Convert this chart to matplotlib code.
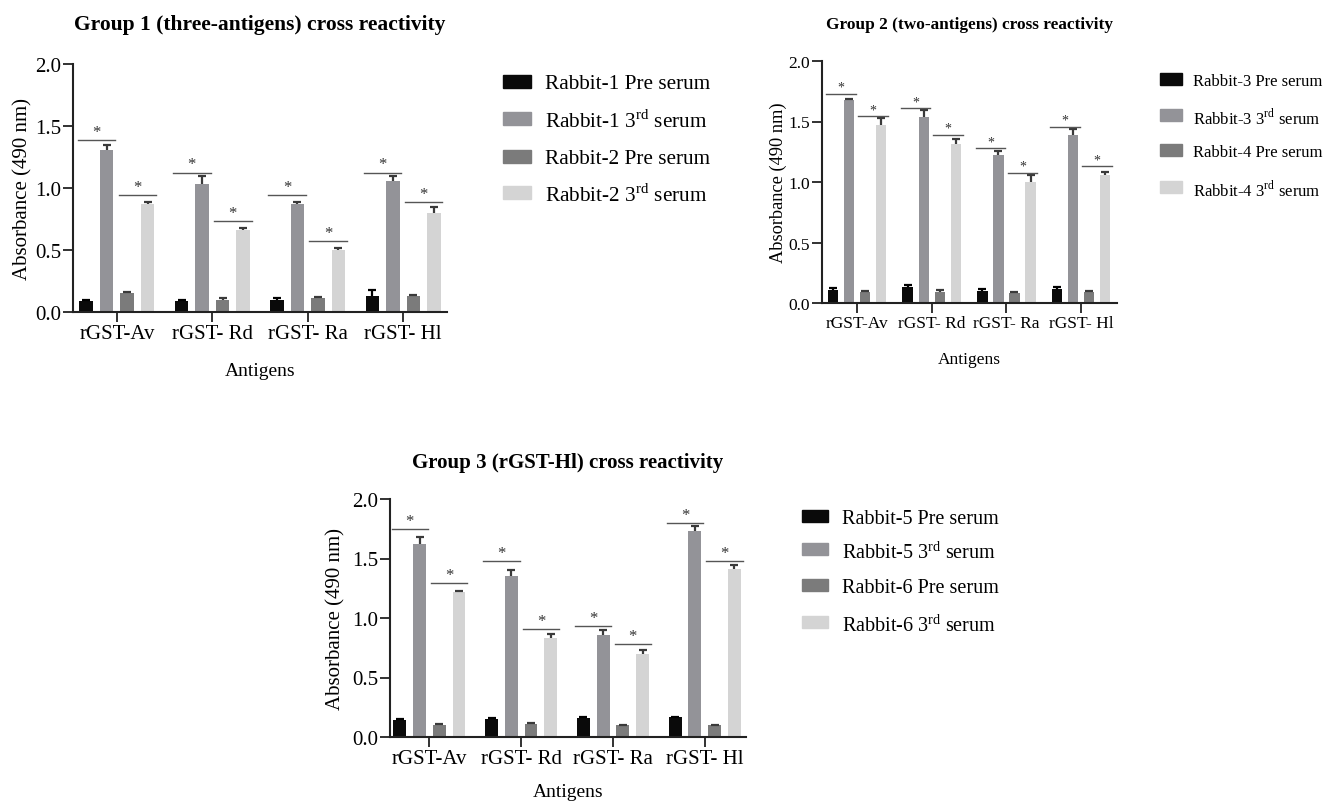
import matplotlib
matplotlib.use('Agg')
import matplotlib.pyplot as plt
from matplotlib.patches import Rectangle
import numpy as np

plt.rcParams['font.family'] = ['Liberation Serif', 'DejaVu Serif']
plt.rcParams['mathtext.fontset'] = 'custom'
plt.rcParams['mathtext.rm'] = 'Liberation Serif'

W, H = 1325, 803

antigens = ['rGST-Av', 'rGST- Rd', 'rGST- Ra', 'rGST- Hl']
colors = ['#0a0a0a', '#939398', '#7b7b7b', '#d4d4d4']

# group 1: rabbit-1 pre, rabbit-1 3rd, rabbit-2 pre, rabbit-2 3rd
g1_labels = ['Rabbit-1 Pre serum', r'Rabbit-1 3$^{\mathrm{rd}}$ serum', 'Rabbit-2 Pre serum', r'Rabbit-2 3$^{\mathrm{rd}}$ serum']
g1_vals = [[0.09, 0.09, 0.095, 0.13], [1.31, 1.03, 0.87, 1.06], [0.155, 0.10, 0.115, 0.13], [0.87, 0.665, 0.50, 0.80]]
g1_err = [[0.01, 0.01, 0.015, 0.05], [0.04, 0.07, 0.015, 0.04], [0.01, 0.01, 0.01, 0.005], [0.015, 0.01, 0.02, 0.05]]
g1_sig_a = [1.39, 1.125, 0.94, 1.125]
g1_sig_b = [0.94, 0.735, 0.57, 0.89]

g2_labels = ['Rabbit-3 Pre serum', r'Rabbit-3 3$^{\mathrm{rd}}$ serum', 'Rabbit-4 Pre serum', r'Rabbit-4 3$^{\mathrm{rd}}$ serum']
g2_vals = [[0.11, 0.135, 0.10, 0.115], [1.675, 1.54, 1.225, 1.385], [0.088, 0.094, 0.083, 0.088], [1.47, 1.31, 1.00, 1.055]]
g2_err = [[0.01, 0.01, 0.015, 0.02], [0.01, 0.055, 0.03, 0.055], [0.01, 0.01, 0.005, 0.008], [0.055, 0.045, 0.06, 0.03]]
g2_sig_a = [1.73, 1.61, 1.28, 1.455]
g2_sig_b = [1.545, 1.39, 1.075, 1.13]

g3_labels = ['Rabbit-5 Pre serum', r'Rabbit-5 3$^{\mathrm{rd}}$ serum', 'Rabbit-6 Pre serum', r'Rabbit-6 3$^{\mathrm{rd}}$ serum']
g3_vals = [[0.14, 0.15, 0.16, 0.165], [1.625, 1.355, 0.86, 1.73], [0.10, 0.11, 0.10, 0.10], [1.22, 0.83, 0.70, 1.41]]
g3_err = [[0.01, 0.01, 0.01, 0.005], [0.055, 0.045, 0.04, 0.04], [0.01, 0.008, 0.005, 0.0], [0.01, 0.035, 0.03, 0.035]]
g3_sig_a = [1.75, 1.48, 0.93, 1.80]
g3_sig_b = [1.295, 0.91, 0.785, 1.48]
g3_line_a = [False, False, True, True]


def px_box(l, t, r, b):
  return [l / W, 1 - b / H, (r - l) / W, (b - t) / H]


def draw_panel(ax, vals, errs, sig_a, sig_b, xlim, fs, line_a=None):
  x = np.arange(len(antigens))
  step, width = 0.215, 0.14
  for i in range(4):
    off = (i - 1.5) * step
    ax.bar(x + off, vals[i], width, color=colors[i], zorder=2)
    ec = '#3a3a3a' if i != 0 else '#000000'
    _, caps, _ = ax.errorbar(x + off, vals[i], yerr=[np.zeros(4), errs[i]], fmt='none', ecolor=ec,
                             elinewidth=1.6, capsize=2.6, capthick=1.6, zorder=3)
    caps[0].remove()  # one-sided bars, no cap at the bar top
  if line_a is None:
    line_a = [True] * 4
  for j in range(4):
    for k, (h, first) in enumerate([(sig_a[j], 0), (sig_b[j], 2)]):
      x0 = x[j] + (first - 1.5) * step - width / 2 - 0.02
      x1 = x[j] + (first + 1 - 1.5) * step + width / 2 + 0.02
      if k == 1 or line_a[j]:
        ax.plot([x0, x1], [h, h], color='#555555', lw=1.0, zorder=3)
      ax.text((x0 + x1) / 2, h + 0.0, '*', ha='center', va='bottom', fontsize=fs * 0.8, color='#333333')
  ax.set_xlim(*xlim)
  ax.set_ylim(0, 2.0)
  ax.set_yticks([0, 0.5, 1.0, 1.5, 2.0])
  ax.set_yticklabels(['0.0', '0.5', '1.0', '1.5', '2.0'])
  ax.set_xticks(x)
  ax.set_xticklabels(antigens)
  ax.tick_params(labelsize=fs, width=1.3, length=7, pad=1.5, color='#222222')
  for s in ['top', 'right']:
    ax.spines[s].set_visible(False)
  for s in ['left', 'bottom']:
    ax.spines[s].set_linewidth(1.5)
    ax.spines[s].set_color('#222222')


def draw_text(ax, title, title_xy, title_fs, ylab_x, ylab_fs, xlab_y, xlab_fs):
  ax.set_ylabel('Absorbance (490 nm)', fontsize=ylab_fs)
  ax.yaxis.set_label_coords(ylab_x, 0.5)
  ax.set_xlabel('Antigens', fontsize=xlab_fs)
  ax.xaxis.set_label_coords(0.5, xlab_y)
  fig.text(title_xy[0] / W, 1 - title_xy[1] / H, title, ha='center', va='center',
           fontsize=title_fs, fontweight='bold')


def draw_legend(labels, sq_x, sq_w, sq_h, txt_x, rows_y, fs):
  for c, lab, y in zip(colors, labels, rows_y):
    fig.add_artist(Rectangle((sq_x / W, 1 - (y + sq_h / 2) / H), sq_w / W, sq_h / H,
                             transform=fig.transFigure, color=c))
    fig.text(txt_x / W, 1 - y / H, lab, va='center_baseline', fontsize=fs)


fig = plt.figure(figsize=(W / 100, H / 100), dpi=100)
ax1 = fig.add_axes(px_box(73, 65, 447, 313))
ax2 = fig.add_axes(px_box(822, 62, 1117, 304))
ax3 = fig.add_axes(px_box(390, 500, 746, 738))

draw_panel(ax1, g1_vals, g1_err, g1_sig_a, g1_sig_b, (-0.46, 3.46), 15)
draw_text(ax1, 'Group 1 (three-antigens) cross reactivity', (260, 25), 15.5, -0.107, 15, -0.2, 14)
draw_legend(g1_labels, 503, 28, 13, 545, [82, 119, 157, 193], 15.3)

draw_panel(ax2, g2_vals, g2_err, g2_sig_a, g2_sig_b, (-0.47, 3.48), 12.5)
draw_text(ax2, 'Group 2 (two-antigens) cross reactivity', (970, 25), 12.4, -0.119, 13.2, -0.198, 12.5)
draw_legend(g2_labels, 1160, 22, 12, 1193, [80, 116, 151, 188], 12)

draw_panel(ax3, g3_vals, g3_err, g3_sig_a, g3_sig_b, (-0.43, 3.45), 15)
draw_text(ax3, 'Group 3 (rGST-Hl) cross reactivity', (568, 463), 15, -0.124, 15, -0.193, 14)
draw_legend(g3_labels, 802, 26, 12, 842, [517, 550, 586, 623], 14.5)

fig.savefig('out.png', dpi=100)
